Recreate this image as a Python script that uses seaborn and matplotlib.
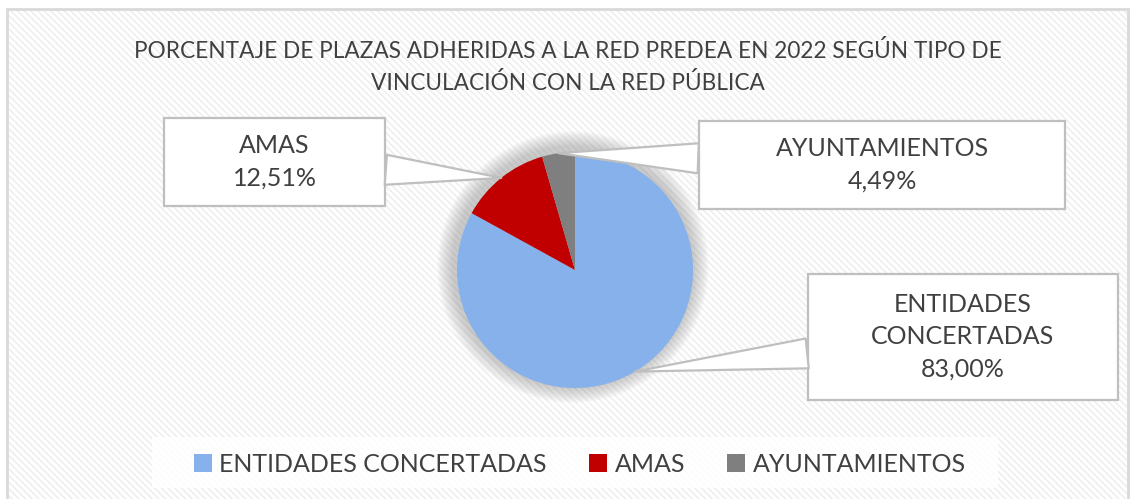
import numpy as np
import seaborn as sns
from matplotlib import pyplot as plt
from matplotlib.patches import Rectangle, Circle

categories = ['ENTIDADES CONCERTADAS', 'AMAS', 'AYUNTAMIENTOS']
shares = [83.00, 12.51, 4.49]
colors = ['#86B1EA', '#C00000', '#7F7F7F']
title = 'PORCENTAJE DE PLAZAS ADHERIDAS A LA RED PREDEA EN 2022 SEGÚN TIPO DE\nVINCULACIÓN CON LA RED PÚBLICA'

sns.set_theme(style='white')
plt.rcParams['font.family'] = ['Lato', 'DejaVu Sans']
txt = '#404040'
W, H = 1131, 499

fig = plt.figure(figsize=(W / 100, H / 100), dpi=100)
fig.patch.set_facecolor('white')

# fondo rayado y borde
fig.patches.append(Rectangle((7 / W, 0), (W - 10) / W, (H - 9) / H, transform=fig.transFigure,
                             facecolor='white', edgecolor='#ECECEC', hatch='\\\\\\\\\\', linewidth=0, zorder=-2))
fig.patches.append(Rectangle((7 / W, -0.05), (W - 10) / W, (H - 9) / H + 0.05, transform=fig.transFigure,
                             facecolor='none', edgecolor='#D9D9D9', linewidth=2, zorder=-1))

ax = fig.add_axes([0, 0, 1, 1])
ax.patch.set_alpha(0)

cx, cy, r = 575, H - 270, 118

# sombra suave del grafico
for k in range(16):
    ax.add_patch(Circle((cx - 2, cy + 3), r + 18 - k, color='#808080', alpha=0.028, linewidth=0, zorder=1))

wedges, _ = ax.pie(shares, colors=colors, startangle=90, counterclock=False,
                   center=(cx, cy), radius=r, wedgeprops=dict(linewidth=0, zorder=2))
ax.set_xlim(0, W)
ax.set_ylim(0, H)
ax.set_aspect('equal')
ax.axis('off')

# cajas de etiquetas (x, y arriba, ancho, alto) en pixeles
boxes = [(808, 274, 310, 126), (164, 118, 221, 88), (699, 121, 366, 88)]
cum = 0
for name, val, (bx, by, bw, bh) in zip(categories, shares, boxes):
    mid = np.deg2rad(90 - 3.6 * (cum + val / 2))
    cum += val
    tip = (cx + r * np.cos(mid), cy + r * np.sin(mid))
    rect = Rectangle((bx, H - by - bh), bw, bh, facecolor='white', edgecolor='#BFBFBF',
                     linewidth=1.6, zorder=4)
    ax.add_patch(rect)
    label = name.replace(' ', '\n') + '\n' + f'{val:.2f}%'.replace('.', ',')
    ax.annotate(label, xy=tip, xytext=(bx + bw / 2, H - by - bh / 2), ha='center', va='center',
                fontsize=18, color=txt, linespacing=1.5, zorder=5,
                arrowprops=dict(arrowstyle='wedge,tail_width=1.2', facecolor='white', edgecolor='#BFBFBF',
                                linewidth=1.6, patchA=rect, shrinkA=0, shrinkB=0, zorder=3))

fig.text(568 / W, 1 - 67 / H, title, ha='center', va='center', fontsize=16.3, color=txt, linespacing=1.6)

# banda blanca de la leyenda
ax.add_patch(Rectangle((152, H - 488), 846, 51, facecolor='white', alpha=0.85, linewidth=0, zorder=1))
leg = ax.legend(wedges, categories, loc='center', bbox_to_anchor=(580 / W, 1 - 464 / H),
                bbox_transform=fig.transFigure, ncol=3, frameon=False, fontsize=18,
                handlelength=0.7, handleheight=0.7, handletextpad=0.3, columnspacing=1.7,
                borderpad=0, labelcolor=txt)

fig.savefig('out.png', dpi=100)
